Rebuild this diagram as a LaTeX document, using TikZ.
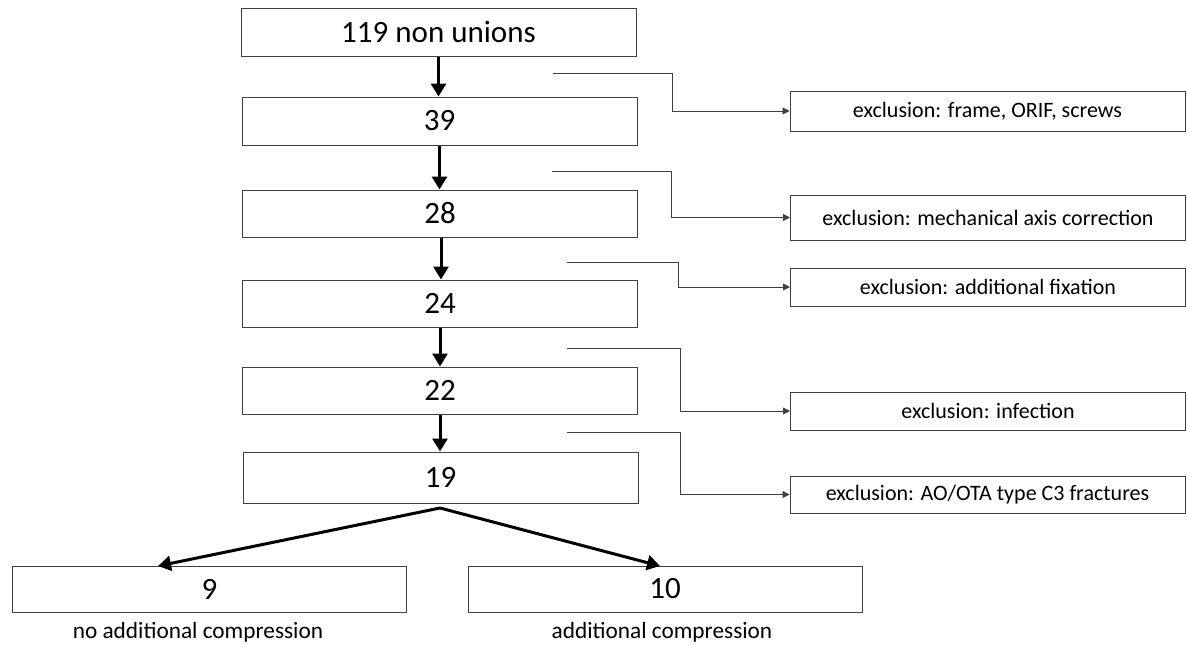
\documentclass[tikz,border=0pt]{standalone}
\usepackage{fontspec}
\setmainfont{Carlito}
\usetikzlibrary{arrows.meta, calc}

\begin{document}
\begin{tikzpicture}[x=1pt, y=-1pt,
    mainbox/.style={draw=black!75, line width=1pt, minimum width=395pt, minimum height=47pt, inner sep=0pt, font=\fontsize{31}{33}\selectfont},
    exbox/.style={draw=black!75, line width=1pt, minimum width=395pt, minimum height=39pt, inner sep=0pt, font=\fontsize{22}{24}\selectfont},
    flow/.style={line width=3pt, -{Triangle[width=15pt, length=13pt]}},
    excl/.style={draw=black!75, line width=0.9pt, -{Triangle[width=7pt, length=7pt]}}]
    \useasboundingbox (0,0) rectangle (1187,645);

    % Define the main boxes
    \node[mainbox, minimum height=48pt] (n119) at (438.5,32) {119 non unions};
    \node[mainbox, minimum height=48pt] (n39) at (439.5,121) {39};
    \node[mainbox] (n28) at (440,213.5) {28};
    \node[mainbox] (n24) at (440,303.5) {24};
    \node[mainbox] (n22) at (440,390.5) {22};
    \node[mainbox, minimum height=51pt] (n19) at (440.5,477.5) {19};
    \node[mainbox, minimum width=394pt, minimum height=46pt] (n9) at (209.5,589) {9};
    \node[mainbox, minimum width=394pt, minimum height=46pt] (n10) at (665,589) {10};

    % Labels under the two groups
    \node[font=\fontsize{23.3}{25}\selectfont] (lab9) at (198,632) {no additional compression};
    \node[font=\fontsize{23.3}{25}\selectfont] (lab10) at (662,632) {additional compression};

    % Exclusion boxes
    \node[exbox, minimum height=40pt] (ex1) at (987.5,111) {exclusion: frame, ORIF, screws};
    \node[exbox, minimum height=45pt] (ex2) at (988,217.5) {exclusion: mechanical axis correction};
    \node[exbox, minimum height=38pt] (ex3) at (988,287) {exclusion: additional fixation};
    \node[exbox, minimum height=38pt] (ex4) at (988,411) {exclusion: infection};
    \node[exbox, minimum height=37pt] (ex5) at (987.5,494.5) {exclusion: AO/OTA type C3 fractures};

    % Start points of the exclusion lines
    \coordinate (c1) at (553,73);
    \coordinate (c2) at (552,171);
    \coordinate (c3) at (567,262);
    \coordinate (c4) at (567,348);
    \coordinate (c5) at (567,432);

    % Split point and arrow tips of the last step
    \coordinate (split) at (440,508);
    \coordinate (tip9) at (158,566);
    \coordinate (tip10) at (660,566);

    % Draw the main flow
    \draw[flow] (n119.south) -- (n119.south |- n39.north);
    \draw[flow] (n39.south) -- (n39.south |- n28.north);
    \draw[flow] ($(n28.south)+(1,0)$) -- ($(n28.south |- n24.north)+(1,0)$);
    \draw[flow] (n24.south) -- (n24.south |- n22.north);
    \draw[flow] (n22.south) -- (n22.south |- n19.north);
    \draw[flow] (split) -- (tip9);
    \draw[flow] (split) -- (tip10);

    % Draw the exclusion lines
    \draw[excl] (c1) -- ++(119,0) |- (ex1.west);
    \draw[excl] (c2) -- ++(119,0) |- (ex2.west);
    \draw[excl] (c3) -- ++(111,0) |- (ex3.west);
    \draw[excl] (c4) -- ++(113,0) |- (ex4.west);
    \draw[excl] (c5) -- ++(113,0) |- (ex5.west);
\end{tikzpicture}
\end{document}
